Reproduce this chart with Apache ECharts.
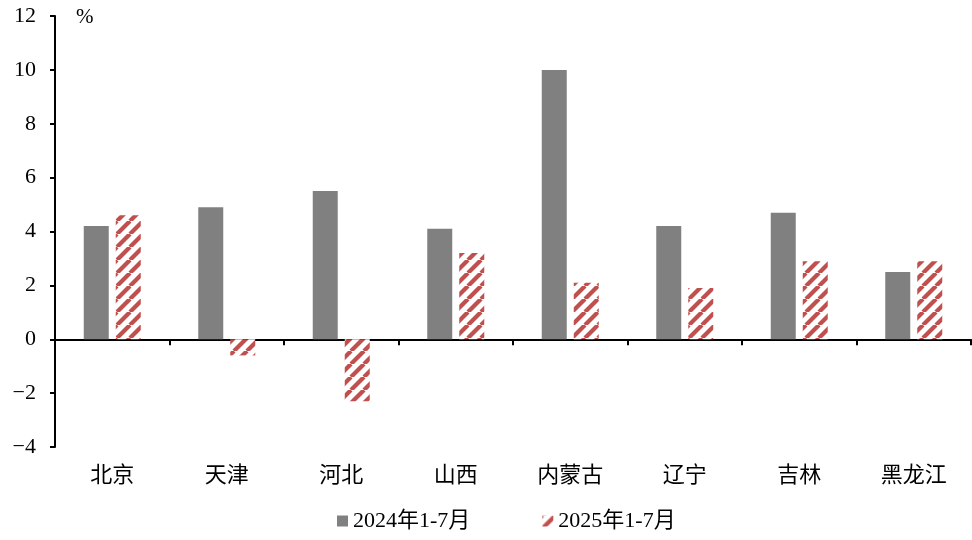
<!DOCTYPE html>
<html>
<head>
<meta charset="utf-8">
<script src="https://cdn.jsdelivr.net/npm/echarts@6/dist/echarts.min.js"></script>
<style>
html,body{margin:0;padding:0;background:#fff;}
#chart{width:972px;height:540px;}
</style>
</head>
<body>
<div id="chart"></div>
<script>
// Regions and growth rates (%)
const categories = ['北京', '天津', '河北', '山西', '内蒙古', '辽宁', '吉林', '黑龙江'];
const seriesNames = ['2024年1-7月', '2025年1-7月'];
const values2024 = [4.2, 4.9, 5.5, 4.1, 10.0, 4.2, 4.7, 2.5];
const values2025 = [4.6, -0.6, -2.3, 3.2, 2.1, 1.9, 2.9, 2.9];
const yTicks = { min: -4, max: 12, interval: 2 };

const FONT = "'Liberation Serif', 'Noto Sans CJK SC', serif";

// Diagonal red hatch tile
function makeHatch() {
  const s = 13;
  const c = document.createElement('canvas');
  c.width = s; c.height = s;
  const g = c.getContext('2d');
  g.fillStyle = '#ffffff';
  g.fillRect(0, 0, s, s);
  g.strokeStyle = '#C0504D';
  g.lineWidth = 4.2;
  for (const o of [-s, 0, s]) {
    g.beginPath();
    g.moveTo(o, s);
    g.lineTo(o + s, 0);
    g.stroke();
  }
  return c;
}
const hatch = { image: makeHatch(), repeat: 'repeat' };

const chart = echarts.init(document.getElementById('chart'));
chart.setOption({
  backgroundColor: '#ffffff',
  animation: false,
  grid: { left: 55, right: 1, top: 16, bottom: 93, containLabel: false },
  legend: {
    bottom: 3,
    left: 332,
    itemGap: 72,
    itemWidth: 11,
    itemHeight: 11,
    textStyle: { fontFamily: FONT, fontSize: 22, color: '#000' },
    data: [
      { name: seriesNames[0], icon: 'rect' },
      { name: seriesNames[1], icon: 'rect' }
    ]
  },
  xAxis: [
    {
      type: 'category',
      data: categories,
      axisLine: { onZero: true, lineStyle: { color: '#000', width: 2 } },
      axisTick: { show: true, length: 6, lineStyle: { color: '#000', width: 2 } },
      axisLabel: { show: false },
      splitLine: { show: false }
    },
    {
      type: 'category',
      data: categories,
      position: 'bottom',
      axisLine: { show: false },
      axisTick: { show: false },
      axisLabel: { margin: 18, fontFamily: FONT, fontSize: 22, color: '#000' }
    }
  ],
  yAxis: {
    type: 'value',
    min: yTicks.min,
    max: yTicks.max,
    interval: yTicks.interval,
    axisLine: { show: true, lineStyle: { color: '#000', width: 2 } },
    axisTick: { show: true, length: 5, lineStyle: { color: '#000', width: 2 } },
    splitLine: { show: false },
    axisLabel: {
      margin: 19,
      fontFamily: FONT,
      fontSize: 22,
      color: '#000',
      formatter: v => (v < 0 ? '\u2212' + Math.abs(v) : String(v))
    }
  },
  graphic: [
    { type: 'text', left: 76, top: 7, style: { text: '%', fontFamily: FONT, fontSize: 21, fill: '#000' } }
  ],
  series: [
    {
      name: seriesNames[0],
      type: 'bar',
      xAxisIndex: 0,
      data: values2024,
      barWidth: 25,
      barGap: '28%',
      itemStyle: { color: '#808080' }
    },
    {
      name: seriesNames[1],
      type: 'bar',
      xAxisIndex: 0,
      data: values2025,
      barWidth: 25,
      barGap: '28%',
      itemStyle: { color: hatch }
    }
  ]
});
</script>
</body>
</html>
